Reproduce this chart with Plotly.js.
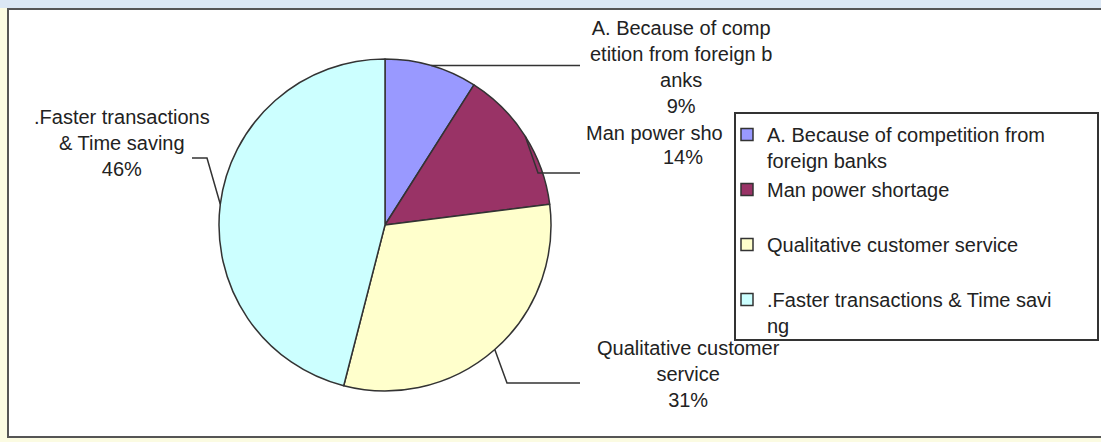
<!DOCTYPE html>
<html>
<head>
<meta charset="utf-8">
<script src="https://cdn.plot.ly/plotly-3.0.1.min.js"></script>
<style>html,body{margin:0;padding:0;background:#fff;}#chart{width:1101px;height:442px;}</style>
</head>
<body>
<div id="chart"></div>
<script>
// ---- data ----
const categories = ["A. Because of competition from foreign banks", "Man power shortage", "Qualitative customer service", ".Faster transactions & Time saving"];
const values = [9, 14, 31, 46];
const legendLabels = ["A. Because of competition from<br>foreign banks", "Man power shortage<br>&nbsp;", "Qualitative customer service<br>&nbsp;", ".Faster transactions & Time savi<br>ng"];
const labelLines = [["A. Because of comp", "etition from foreign b", "anks"], ["Man power sho"], ["Qualitative customer", "service"], [".Faster transactions", "& Time saving"]];
const colors = ["#9999FF", "#993366", "#FFFFCC", "#CCFFFF"];

// ---- layout geometry (pixels) ----
const W = 1101, H = 442;
const cx = 385, cy = 225, R = 166;
const px = (x) => x / W;
const py = (y) => 1 - y / H;

const total = values.reduce((a, b) => a + b, 0);
const pct = values.map(v => Math.round(v / total * 100) + "%");

// slice mid-angles (clockwise from 12 o'clock)
let cum = 0;
const mids = values.map(v => { const m = (cum + v / 2) / total * 2 * Math.PI; cum += v; return m; });
const edge = mids.map(a => [cx + R * Math.sin(a), cy - R * Math.cos(a)]);

const font = {family: "Liberation Sans, Arial, sans-serif", size: 20, color: "#222"};

const annotations = [
  {x: px(681), y: py(67), text: labelLines[0].join("<br>") + "<br>" + pct[0], xanchor: "center", yanchor: "middle"},
  {x: px(584), y: py(133), text: labelLines[1][0], xanchor: "left", yanchor: "middle"},
  {x: px(683), y: py(157), text: pct[1], xanchor: "center", yanchor: "middle"},
  {x: px(688), y: py(374), text: labelLines[2].join("<br>") + "<br>" + pct[2], xanchor: "center", yanchor: "middle"},
  {x: px(122), y: py(143), text: labelLines[3].join("<br>") + "<br>" + pct[3], xanchor: "center", yanchor: "middle"}
].map(a => Object.assign({xref: "paper", yref: "paper", showarrow: false, font: font, align: "center"}, a));

function pathPx(pts) {
  return pts.map((p, i) => (i ? "L" : "M") + px(p[0]) + "," + py(p[1])).join(" ");
}
const lineStyle = {color: "#333", width: 1.5};
const leaders = [
  [edge[0], [580, edge[0][1]]],
  [edge[1], [538, 173], [580, 173]],
  [edge[2], [507, 383], [580, 383]],
  [edge[3], [207, 158], [192, 158]]
];

const shapes = [
  {type: "rect", xref: "paper", yref: "paper", x0: 0, x1: 1, y0: py(8), y1: 1, fillcolor: "#dbe7f4", line: {width: 0}, layer: "below"},
  {type: "rect", xref: "paper", yref: "paper", x0: px(8), x1: px(1120), y0: py(437), y1: py(9), fillcolor: "#ffffff", line: {color: "#555", width: 2}, layer: "below"},
  {type: "rect", xref: "paper", yref: "paper", x0: px(735), x1: px(1098), y0: py(340), y1: py(113), fillcolor: "#ffffff", line: {color: "#333", width: 2}, layer: "above"}
].concat(leaders.map(p => ({type: "path", xref: "paper", yref: "paper", path: pathPx(p), line: lineStyle, layer: "above"})));

const trace = {
  type: "pie",
  labels: legendLabels,
  values: values,
  customdata: categories,
  sort: false,
  direction: "clockwise",
  rotation: 0,
  textinfo: "none",
  hovertemplate: "%{customdata}: %{percent}<extra></extra>",
  marker: {colors: colors, line: {color: "#333", width: 1.5}},
  domain: {x: [px(cx - R), px(cx + R)], y: [py(cy + R), py(cy - R)]}
};

const layout = {
  width: W, height: H,
  margin: {l: 0, r: 0, t: 0, b: 0},
  paper_bgcolor: "#fbfbe2",
  showlegend: true,
  legend: {x: px(727), xanchor: "left", y: py(115), yanchor: "top", bgcolor: "rgba(0,0,0,0)", borderwidth: 0, font: font, valign: "top", tracegroupgap: 0},
  annotations: annotations,
  shapes: shapes
};

Plotly.newPlot("chart", [trace], layout, {displayModeBar: false, staticPlot: false});
</script>
</body>
</html>
